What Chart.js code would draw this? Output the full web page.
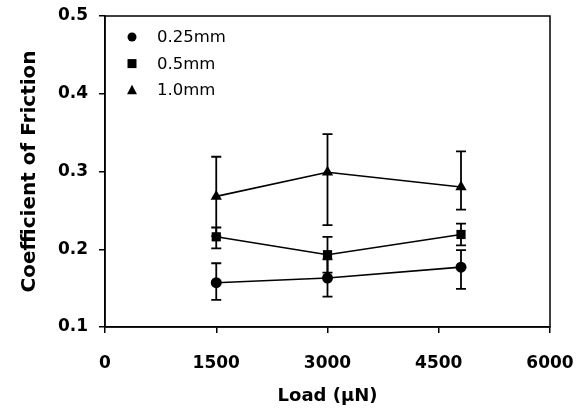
<!DOCTYPE html>
<html>
<head>
<meta charset="utf-8">
<script src="https://cdn.jsdelivr.net/npm/chart.js@4"></script>
<style>
  html, body { margin: 0; padding: 0; background: #fff; }
  #wrap { width: 585px; height: 412px; }
</style>
</head>
<body>
<div id="wrap"><canvas id="frictionChart" width="585" height="412"></canvas></div>
<script>
// Load (uN)
const loads = [1500, 3000, 4800];

// coefficient of friction per probe radius
const cof025 = [0.157, 0.163, 0.177];
const cof05 = [0.216, 0.193, 0.219];
const cof10 = [0.268, 0.299, 0.280];

// error bars (up / down)
const err025Up = [0.025, 0.024, 0.022];
const err025Down = [0.022, 0.024, 0.028];
const err05Up = [0.012, 0.023, 0.014];
const err05Down = [0.015, 0.023, 0.014];
const err10Up = [0.051, 0.049, 0.046];
const err10Down = [0.051, 0.068, 0.029];

const seriesLabels = ['0.25mm', '0.5mm', '1.0mm'];
const xTicks = [0, 1500, 3000, 4500, 6000];
const yTicks = [0.1, 0.2, 0.3, 0.4, 0.5];

const FONT = '"DejaVu Sans", sans-serif';

function makeSet(label, vals, up, down, style, radius){
    return {
        label: label,
        data: loads.map((x, i) => ({x: x, y: vals[i], up: up[i], down: down[i]})),
        borderColor: '#000',
        backgroundColor: '#000',
        borderWidth: 1.6,
        pointStyle: style,
        pointRadius: radius,
        pointBorderWidth: 0,
        showLine: true,
        tension: 0
    };
}

// keep the plot box fixed, labels may overhang
function noPad(s){
    s.paddingLeft = 0; s.paddingRight = 0; s.paddingTop = 0; s.paddingBottom = 0;
}

/* error bars, drawn through the scales */
const errorBars = {
    id: 'errorBars',
    beforeDatasetsDraw(chart){
        const ctx = chart.ctx;
        const xs = chart.scales.x, ys = chart.scales.y;
        ctx.save();
        ctx.strokeStyle = '#000';
        ctx.lineWidth = 1.8;
        chart.data.datasets.forEach(ds => {
            ds.data.forEach(p => {
                const px = xs.getPixelForValue(p.x);
                const top = ys.getPixelForValue(p.y + p.up);
                const bot = ys.getPixelForValue(p.y - p.down);
                ctx.beginPath();
                ctx.moveTo(px, top); ctx.lineTo(px, bot);
                ctx.moveTo(px - 5, top); ctx.lineTo(px + 5, top);
                ctx.moveTo(px - 5, bot); ctx.lineTo(px + 5, bot);
                ctx.stroke();
            });
        });
        ctx.restore();
    }
};

/* frame + legend inside plot */
const frameLegend = {
    id: 'frameLegend',
    afterDraw(chart){
        const ctx = chart.ctx;
        const a = chart.chartArea;
        ctx.save();
        ctx.strokeStyle = '#000';
        ctx.lineWidth = 1.5;
        ctx.strokeRect(a.left, a.top, a.right - a.left, a.bottom - a.top);

        ctx.fillStyle = '#000';
        ctx.font = '16.5px ' + FONT;
        ctx.textBaseline = 'middle';
        chart.data.datasets.forEach((ds, i) => {
            const mx = a.left + 27, my = a.top + 21 + i * 26.6;
            ctx.beginPath();
            if(ds.pointStyle === 'circle'){
                ctx.arc(mx, my, 4.5, 0, Math.PI * 2);
            } else if(ds.pointStyle === 'rect'){
                ctx.rect(mx - 4.5, my - 4.5, 9, 9);
            } else {
                ctx.moveTo(mx, my - 5.5); ctx.lineTo(mx + 5, my + 4); ctx.lineTo(mx - 5, my + 4); ctx.closePath();
            }
            ctx.fill();
            ctx.fillText(ds.label, mx + 25, my + 1);
        });
        ctx.restore();
    }
};

const ctx = document.getElementById('frictionChart').getContext('2d');
new Chart(ctx, {
    type: 'scatter',
    data: {
        datasets: [
            makeSet(seriesLabels[0], cof025, err025Up, err025Down, 'circle', 5.5),
            makeSet(seriesLabels[1], cof05, err05Up, err05Down, 'rect', 6.5),
            makeSet(seriesLabels[2], cof10, err10Up, err10Down, 'triangle', 6.5)
        ]
    },
    options: {
        responsive: false,
        animation: false,
        layout: { padding: { left: 0, right: 35, top: 16, bottom: 0 } },
        plugins: { legend: { display: false }, tooltip: { enabled: false } },
        scales: {
            x: {
                type: 'linear',
                min: 0, max: 6000,
                afterBuildTicks: s => { s.ticks = xTicks.map(v => ({value: v})); },
                afterFit: s => { s.height = 85; noPad(s); },
                border: { display: true, color: '#000', width: 1.5 },
                grid: { display: true, drawOnChartArea: false, drawTicks: true, tickLength: 6, color: '#000', lineWidth: 1.5 },
                ticks: { color: '#000', font: { family: FONT, size: 17, weight: 'bold' }, padding: 20, maxRotation: 0, callback: v => String(v) },
                title: { display: true, text: 'Load (\u03BCN)', color: '#000', font: { family: FONT, size: 18, weight: 'bold' }, padding: { top: 4, bottom: 5 } }
            },
            y: {
                type: 'linear',
                min: 0.1, max: 0.5,
                afterBuildTicks: s => { s.ticks = yTicks.map(v => ({value: v})); },
                afterFit: s => { s.width = 105; noPad(s); },
                border: { display: true, color: '#000', width: 1.5 },
                grid: { display: true, drawOnChartArea: false, drawTicks: true, tickLength: 6, color: '#000', lineWidth: 1.5 },
                ticks: { color: '#000', font: { family: FONT, size: 17, weight: 'bold' }, padding: 11, callback: v => v.toFixed(1) },
                title: { display: true, text: 'Coefficient of Friction', color: '#000', font: { family: FONT, size: 20, weight: 'bold' }, padding: { top: 18, bottom: 4 } }
            }
        }
    },
    plugins: [errorBars, frameLegend]
});
</script>
</body>
</html>
